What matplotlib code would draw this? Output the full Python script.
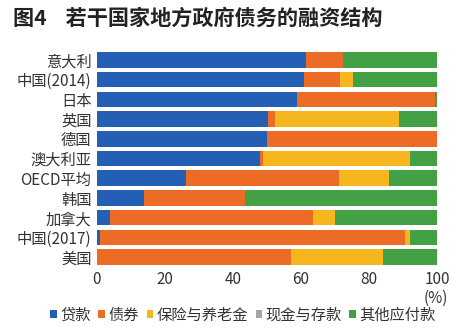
import numpy as np
import matplotlib.pyplot as plt

plt.rcParams['font.family'] = ['Noto Sans CJK SC', 'DejaVu Sans']

pays = ["意大利", "中国(2014)", "日本", "英国", "德国", "澳大利亚",
        "OECD平均", "韩国", "加拿大", "中国(2017)", "美国"]
series = ["贷款", "债券", "保险与养老金", "现金与存款", "其他应付款"]
couleurs = ["#2360b5", "#ec6c26", "#f5b61e", "#a6a6a6", "#43a045"]

# parts en %, par pays
pret = [61.5, 61.0, 58.9, 50.4, 50.0, 47.9, 26.2, 13.8, 3.8, 0.9, 0.0]
oblig = [10.9, 10.5, 40.4, 2.0, 50.0, 1.0, 45.1, 29.7, 59.6, 89.7, 57.0]
assur = [0.0, 3.7, 0.0, 36.5, 0.0, 43.2, 14.7, 0.0, 6.6, 1.6, 27.0]
cash = [0.0, 0.0, 0.0, 0.0, 0.0, 0.0, 0.0, 0.0, 0.0, 0.0, 0.0]
autres = [27.6, 24.8, 0.7, 11.1, 0.0, 7.9, 14.0, 56.5, 30.0, 7.8, 16.0]

donnees = [pret, oblig, assur, cash, autres]

fig = plt.figure(figsize=(4.64, 3.32), dpi=100)
ax = fig.add_axes([97/464, 1 - 267/332, 340/464, 217/332])

y = np.arange(len(pays))
gauche = np.zeros(len(pays))
for nom, vals, c in zip(series, donnees, couleurs):
    vals = np.array(vals)
    ax.barh(y, vals, left=gauche, height=0.79, color=c, label=nom)
    gauche += vals

ax.set_ylim(len(pays) - 0.5, -0.5)
ax.set_xlim(0, 100)
ax.set_yticks(y)
ax.set_yticklabels(pays, fontsize=11, color="#333333")
ax.set_xticks([0, 20, 40, 60, 80, 100])
ax.set_xticklabels(["0", "20", "40", "60", "80", "100"], fontsize=11, color="#333333")
ax.tick_params(axis="y", length=0, pad=4)
ax.tick_params(axis="x", length=0, pad=3)
for s in ax.spines.values():
    s.set_visible(False)

fig.text(448/464, 1 - 298/332, "(%)", fontsize=11, color="#333333",
         ha="right", va="center")
fig.text(13/464, 1 - 18/332, "图4    若干国家地方政府债务的融资结构", fontsize=15.2,
         fontweight="bold", color="#222222", va="center")

fig.legend(loc="center", bbox_to_anchor=(243/464, 1 - 315/332), ncol=5,
           frameon=False, fontsize=11, handlelength=0.45, handleheight=0.45,
           handletextpad=0.2, columnspacing=0.5, labelcolor="#333333")

fig.savefig("out.png", dpi=100)
